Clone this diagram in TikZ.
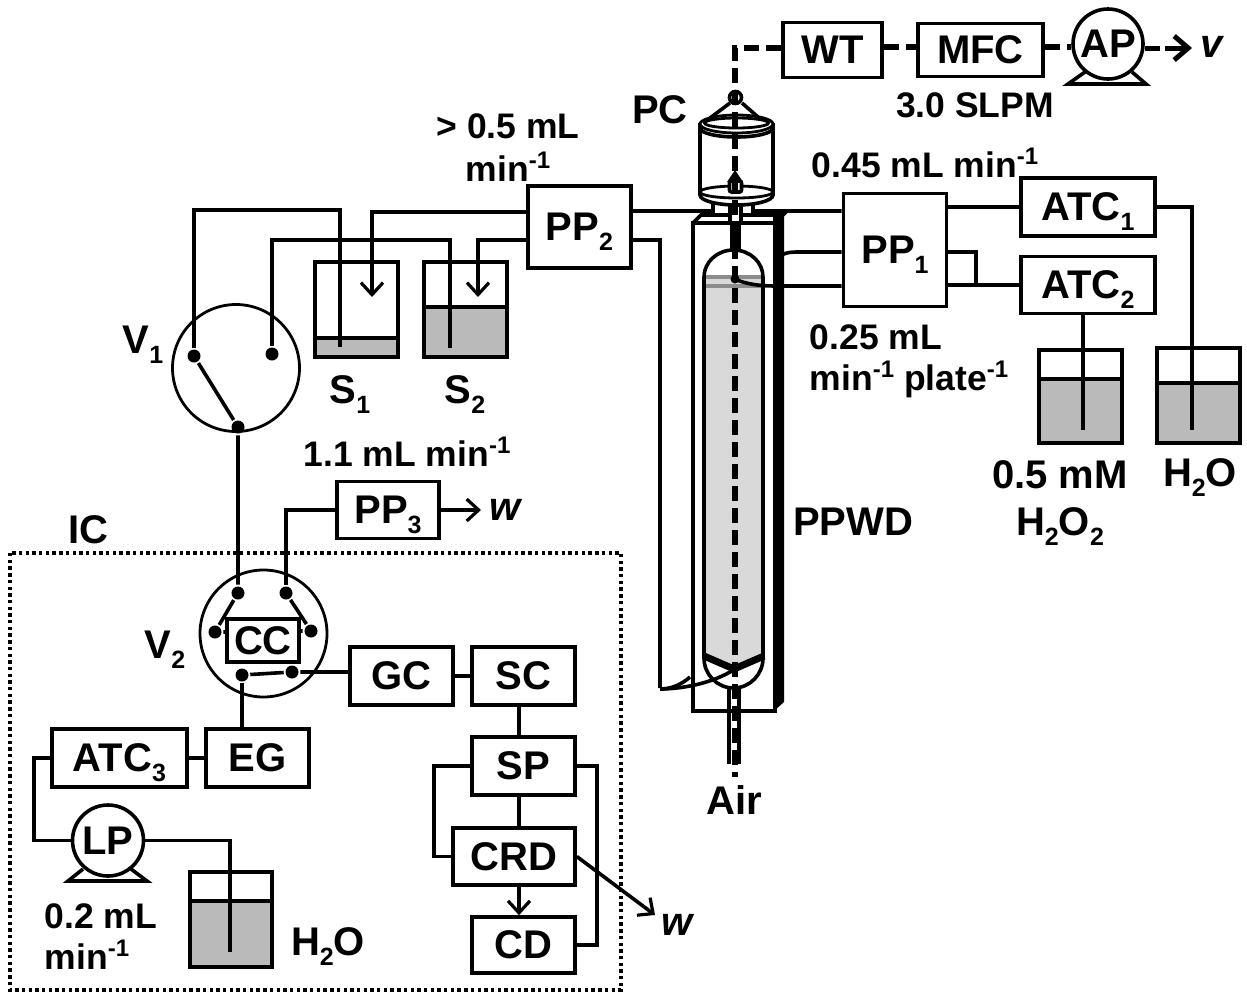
\documentclass[tikz,border=0pt]{standalone}
\usepackage{fontspec}
\setmainfont{Liberation Sans}
\usetikzlibrary{arrows.meta}
\newcommand{\boxfont}{\fontsize{40}{40}\selectfont\bfseries}
\newcommand{\labelfont}{\fontsize{35.5}{41}\selectfont\bfseries}
\newcommand{\sbs}[1]{\raisebox{-10pt}[0pt][0pt]{\fontsize{25}{25}\selectfont #1}}
\newcommand{\sps}[1]{\raisebox{13pt}[0pt][0pt]{\fontsize{24}{24}\selectfont #1}}
\begin{document}
\begin{tikzpicture}[
        x=1pt, y=-1pt,
        line width=3.6pt,
        thin line/.style={line width=2.8pt},
        air/.style={line width=5.5pt, dash pattern=on 15pt off 7pt},
        flow/.style={-{Straight Barb[length=12pt,width=22pt,line width=3.2pt]}},
        box/.style={draw, fill=white, inner sep=0pt, font=\boxfont},
        label/.style={inner sep=0pt, align=center, font=\labelfont},
        boxlabel/.style={inner sep=0pt, align=center, font=\boxfont},
        dot/.style={circle, fill=black, inner sep=0pt, minimum size=13pt},
        valve/.style={circle, draw, thin line, inner sep=0pt, minimum size=127pt},
        pump/.style={circle, draw, fill=white, inner sep=0pt, font=\boxfont},
        beaker/.style={draw, inner sep=0pt},
    ]
    \useasboundingbox (0,0) rectangle (1247,994);

    % IC enclosure
    \draw[line width=3.4pt, dash pattern=on 3.4pt off 3.3pt] (10,553) rectangle (621,990);

    % Beakers
    \foreach \name/\cx/\cy/\w/\h/\lvl in {S1/356.5/309.5/83/95/338, S2/465.5/309.5/83/95/307,
        HP/1080.5/396.5/83/93/379, WA/1198.5/395.5/83/95/383, WB/231/919.5/82/95/901}
    {
        \node[beaker, minimum width=\w pt, minimum height=\h pt] (\name) at (\cx,\cy) {};
        \fill[black!27] (\name.west |- 0,\lvl) rectangle (\name.south east);
        \draw (\name.west |- 0,\lvl) -- (\name.east |- 0,\lvl);
        \node[beaker, minimum width=\w pt, minimum height=\h pt] at (\cx,\cy) {};
    }

    % Boxes
    \node[box, minimum width=99pt, minimum height=55pt] (WT) at (832.5,50) {WT};
    \node[box, minimum width=125pt, minimum height=53pt] (MFC) at (980.5,50) {MFC};
    \node[box, minimum width=103pt, minimum height=82pt] (PP2) at (579.5,227) {PP\sbs{2}};
    \node[box, minimum width=103pt, minimum height=113pt] (PP1) at (895,250) {PP\sbs{1}};
    \node[box, minimum width=134pt, minimum height=58pt] (ATC1) at (1088,207) {ATC\sbs{1}};
    \node[box, minimum width=134pt, minimum height=57pt] (ATC2) at (1088,285) {ATC\sbs{2}};
    \node[box, minimum width=102pt, minimum height=57pt] (PP3) at (388,510) {PP\sbs{3}};
    \node[box, minimum width=103pt, minimum height=58pt] (GC) at (401.5,676) {GC};
    \node[box, minimum width=103pt, minimum height=58pt] (SC) at (523.5,676) {SC};
    \node[box, minimum width=103pt, minimum height=58pt] (SP) at (523.5,766) {SP};
    \node[box, minimum width=122pt, minimum height=57pt] (CRD) at (514,856.5) {CRD};
    \node[box, minimum width=103pt, minimum height=56pt] (CD) at (523.5,945) {CD};
    \node[box, minimum width=103pt, minimum height=58pt] (EG) at (257.5,758) {EG};
    \node[box, minimum width=135pt, minimum height=58pt] (ATC3) at (119.5,758) {ATC\sbs{3}};
    \node[box, minimum width=72pt, minimum height=43pt] (CC) at (263,640.5) {CC};

    % Valves
    \node[valve] (V1) at (236,368) {};
    \node[valve] (V2) at (263.5,633.5) {};
    \node[dot] (V1a) at (194,356) {};
    \node[dot] (V1b) at (272,354) {};
    \node[dot] (V1c) at (238,427) {};
    \node[dot] (V2a) at (238,593) {};
    \node[dot] (V2b) at (286,593) {};
    \node[dot] (V2c) at (215,632) {};
    \node[dot] (V2d) at (311,631) {};
    \node[dot] (V2e) at (242,675) {};
    \node[dot] (V2f) at (292,672) {};

    % Pumps
    \draw (1085,72) -- (1068,84) -- (1146,84) -- (1132,72);
    \draw (83,869) -- (68,881) -- (147,881) -- (131,869);
    \node[pump, minimum size=70pt] (AP) at (1108,44) {AP};
    \node[pump, minimum size=71pt] (LP) at (108,840.5) {LP};

    % Free ends
    \coordinate (S1in) at (340,347);
    \coordinate (S1out) at (372,297);
    \coordinate (S2in) at (450,348);
    \coordinate (S2out) at (478,297);
    \coordinate (HPin) at (1083,430);
    \coordinate (WAin) at (1192,430);
    \coordinate (WBin) at (230,952);
    \coordinate (vdash) at (1160,48);
    \coordinate (vbar) at (1165,48);
    \coordinate (vout) at (1192,48);
    \coordinate (wout) at (481,510);
    \coordinate (wtwo) at (655,915);
    \coordinate (midline) at (519,0);

    % Connections
    \draw (V1a) -- (V1c) -- (V2a);
    \draw (V1a) |- (340,210) -- (S1in);
    \draw (V1b) |- (450,240) -- (S2in);
    \draw[flow] (PP2.west |- 0,212) -| (S1out);
    \draw[flow] (PP2.west |- 0,240) -| (S2out);
    \draw (V2b) |- (PP3.west);
    \draw[flow] (PP3) -- (wout);
    \draw (V2a) -- (V2c) -- (CC.west |- V2c);
    \draw (V2b) -- (V2d) -- (CC.east |- V2d);
    \draw (V2e) -- (V2f) -- (GC.west |- V2f);
    \draw (V2e) -- (EG.north -| V2e);
    \draw (GC) -- (SC);
    \draw (midline |- SC.south) -- (midline |- SP.north);
    \draw (midline |- SP.south) -- (midline |- CRD.north);
    \draw (SP.west) -- ++(-36,0) |- (CRD.west);
    \draw (SP.east) -- ++(20,0) |- (CD.east);
    \draw[flow] (midline |- CRD.south) -- (midline |- CD.north);
    \draw[flow] (CRD.east) -- (wtwo);
    \draw (ATC3) -- (EG);
    \draw (ATC3.west) -- (34,758) |- (LP.west);
    \draw (LP.east) -| (WBin);
    \draw (PP1.east |- ATC1) -- (ATC1);
    \draw (PP1.east |- ATC2) -- (ATC2);
    \draw (PP1.east |- 0,252) -| (976,286);
    \draw (ATC1.east) -| (WAin);
    \draw (ATC2.south -| HPin) -- (HPin);
    \draw (PP2.east |- 0,240) -| (660,688);

    % PPWD body
    \coordinate (PPtl) at (693,223);
    \coordinate (PPbr) at (775,711);
    \draw[fill=white] (PPtl) rectangle (PPbr);
    \draw (PPtl) -- (701,215) -- (783,215) -- (775,223);
    \fill (773,217) -- (784,217) -- (784,702) -- (774,711) -- cycle;
    \fill[black!15] (705,277) -- (763,277) -- (763,656) -- (734,670) -- (705,656) -- cycle;
    \fill[black!45] (706,275) rectangle (762,279);
    \fill[black!45] (706,284) rectangle (762,288);
    \draw (704,658) -- (704,277) arc[start angle=180, end angle=360, x radius=29.5, y radius=27] -- (763,658);
    \draw (704,658) arc[start angle=180, end angle=0, x radius=29.5, y radius=30];
    \draw[line width=7pt] (704,656) -- (734,669) -- (764,656);
    \draw (PP2.east |- 0,211) -- (713,211) -- (713,195);
    \draw (PP1.west |- 0,211) -- (753,211) -- (753,190) -- (736,170);
    \draw (PP1.west |- 0,252) -- (797,252) .. controls (787,252) and (782,254) .. (777,258);
    \draw (PP1.west |- 0,286) -- (775,286) .. controls (760,286) and (745,284) .. (735,279);
    \draw (660,689) .. controls (680,689) and (712,684) .. (735,669);
    \draw (660,689) .. controls (672,689) and (682,684) .. (690,677);

    % Particle collector
    \draw[fill=white] (700,123) -- (700,195) arc[start angle=180, end angle=0, x radius=36.5, y radius=10]
        -- (773,123);
    \draw[fill=white, thin line] (736.5,124) ellipse[x radius=36.5, y radius=9];
    \draw[thin line] (736.5,123) ellipse[x radius=32, y radius=5];
    \draw (700,128) arc[start angle=180, end angle=0, x radius=36.5, y radius=9];
    \draw[thin line] (736.5,192) ellipse[x radius=36.5, y radius=6];
    \draw (730,103) -- (710,118);
    \draw (742,103) -- (758,117);
    \draw (735.5,97.5) circle[radius=6];
    \fill (735,170) -- (727,182) -- (743,182) -- cycle;
    \draw[fill=white, rounded corners=2pt] (729.5,181) rectangle (741.5,192);
    \draw[fill=white] (730,205) rectangle (741,223);
    \fill (730,223) rectangle (741,250);

    % Air line
    \draw (729,688) -- (729,764);
    \draw (739,688) -- (739,764);
    \draw[air] (WT.west |- 0,48) -| (735,777);
    \node[dot, minimum size=9pt] (PPdot) at (735,279) {};
    \draw[air] (WT.east |- 0,47) -- (MFC.west |- 0,47);
    \draw[air] (MFC.east |- 0,47) -- (AP.west |- 0,47);
    \draw[line width=5pt] (AP.east |- 0,48) -- (vdash);
    \draw[line width=5pt, -{Straight Barb[length=14pt,width=24pt,line width=5pt]}] (vbar) -- (vout);

    % Labels
    \node[boxlabel] (lPC) at (660,110) {PC};
    \node[label] (lSLPM) at (975,105) {3.0 SLPM};
    \node[label, anchor=north] (lPPa) at (508,112) {> 0.5 mL\\[2pt]min\sps{-1}};
    \node[label] (lPPb) at (925,165) {0.45 mL min\sps{-1}};
    \node[label, anchor=north west, align=left] (lPPc) at (808,323) {0.25 mL\\min\sps{-1} plate\sps{-1}};
    \node[boxlabel] (lV1) at (143,340) {V\sbs{1}};
    \node[boxlabel] (lV2) at (165,645) {V\sbs{2}};
    \node[boxlabel] (lS1) at (350,390) {S\sbs{1}};
    \node[boxlabel] (lS2) at (465,390) {S\sbs{2}};
    \node[label] (lflow) at (407,454) {1.1 mL min\sps{-1}};
    \node[boxlabel] (lw) at (505,510) {\itshape w};
    \node[boxlabel] (lww) at (677,925) {\itshape w};
    \node[boxlabel] (lv) at (1212,47) {\itshape v};
    \node[boxlabel] (lIC) at (88,530) {IC};
    \node[boxlabel] (lPPWD) at (853,522) {PPWD};
    \node[boxlabel] (lAir) at (734,800) {Air};
    \node[boxlabel] (lHP) at (1060,498) {0.5 mM\\[7pt]H\sbs{2}O\sbs{2}};
    \node[boxlabel] (lWA) at (1200,473) {H\sbs{2}O};
    \node[boxlabel] (lWB) at (328,942) {H\sbs{2}O};
    \node[label, anchor=north west, align=left] (lLP) at (43,902) {0.2 mL\\min\sps{-1}};
\end{tikzpicture}
\end{document}
